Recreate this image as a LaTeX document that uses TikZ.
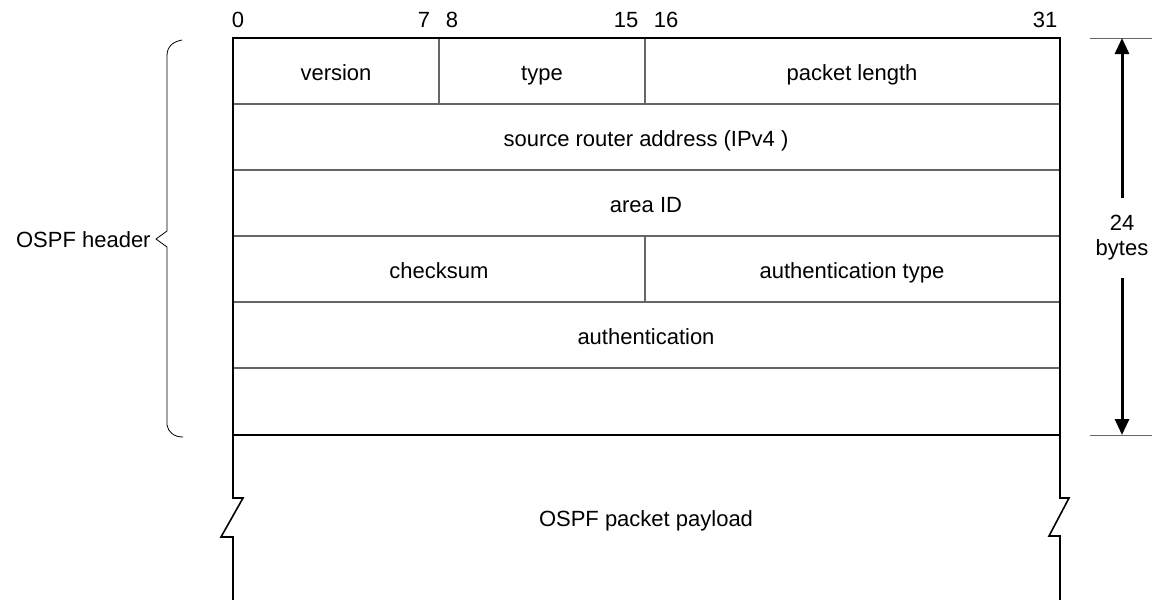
\documentclass[tikz,border=0pt]{standalone}
\usepackage{fontspec}
\setmainfont{Liberation Sans}
\usetikzlibrary{arrows.meta}
\begin{document}
\begin{tikzpicture}[x=0.5pt,y=-0.5pt,
  font=\fontsize{11}{12.5}\selectfont,
  outerline/.style={line width=0.8pt, black},
  innerline/.style={line width=0.6pt, black!60},
  tickline/.style={line width=0.5pt, black!60},
  bracestyle/.style={line width=0.4pt, black},
  sizearrow/.style={line width=1.5pt, -{Triangle[length=8pt,width=7pt]}},
  field/.style={inner sep=0pt, anchor=base},
  bitlbl/.style={inner sep=0pt, anchor=center}]
\useasboundingbox (0,0) rectangle (1152,600);
% inner row lines
\draw[innerline] (233,104) -- (1060,104);
\draw[innerline] (233,170) -- (1060,170);
\draw[innerline] (233,236) -- (1060,236);
\draw[innerline] (233,302) -- (1060,302);
\draw[innerline] (233,368) -- (1060,368);
\draw[innerline] (439,38) -- (439,104);
\draw[innerline] (645,38) -- (645,104);
\draw[innerline] (645,236) -- (645,302);
% outer frame with break marks
\draw[outerline] (233,600) -- (233,537) -- (221,537) -- (243,498) -- (233,498)
  -- (233,38) -- (1060,38) -- (1060,498) -- (1069,498) -- (1049,536)
  -- (1060,536) -- (1060,600);
\draw[outerline] (233,435) -- (1060,435);
% bit labels
\node[bitlbl] (b0) at (238,20) {0};
\node[bitlbl] (b7) at (424,20) {7};
\node[bitlbl] (b8) at (452,20) {8};
\node[bitlbl] (b15) at (626,20) {15};
\node[bitlbl] (b16) at (666,20) {16};
\node[bitlbl] (b31) at (1045,20) {31};
% fields
\node[field] (ver) at (336,80) {version};
\node[field] (typ) at (542,80) {type};
\node[field] (len) at (852,80) {packet length};
\node[field] (src) at (646,146) {source router address (IPv4 )};
\node[field] (area) at (646,212) {area ID};
\node[field] (chk) at (439,278) {checksum};
\node[field] (autht) at (852,278) {authentication type};
\node[field] (auth) at (646,344) {authentication};
\node[field] (pay) at (646,526) {OSPF packet payload};
% header brace
\draw[bracestyle] (182,40) .. controls (172,42) and (167,47) .. (167,56)
  -- (167,231) -- (156,239) -- (167,247) -- (167,425)
  .. controls (168,432) and (174,437) .. (183,437);
\node[inner sep=0pt, anchor=east] (hdr) at (151,240) {OSPF header};
% size dimension
\draw[tickline] (1090,38) -- (1152,38);
\draw[tickline] (1090,435) -- (1152,435);
\coordinate (szt) at (1122,38);
\coordinate (szb) at (1122,435);
\node[inner sep=0pt, align=center] (sz) at (1122,238) {24\\bytes};
\coordinate (szu) at (1122,198);
\coordinate (szl) at (1122,278);
\draw[sizearrow] (szu) -- (szt);
\draw[sizearrow] (szl) -- (szb);
\end{tikzpicture}
\end{document}
